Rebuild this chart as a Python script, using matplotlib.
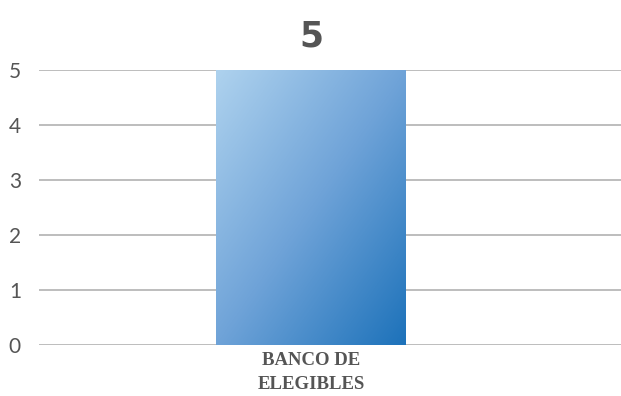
import matplotlib
matplotlib.use("Agg")
import matplotlib.pyplot as plt
import numpy as np
from matplotlib.colors import LinearSegmentedColormap

categories = ["BANCO DE\nELEGIBLES"]
values = [5]
yticks = [0, 1, 2, 3, 4, 5]

fig = plt.figure(figsize=(6.21, 3.96), dpi=100)
ax = fig.add_axes([39 / 621, 1 - 345 / 396, 582 / 621, 275 / 396])

x = np.arange(len(categories))
bars = ax.bar(x, values, width=0.6, color="none", edgecolor="none", zorder=3)

# diagonal gradient fill, light top-left to dark bottom-right
cmap = LinearSegmentedColormap.from_list("blu", ["#aed2ee", "#6fa3d8", "#1d72ba"])
gx, gy = np.meshgrid(np.linspace(0, 1, 200), np.linspace(0, 1, 200))
grad = (gx + gy) / 2
for b in bars:
    x0, y0 = b.get_x(), b.get_y()
    w, h = b.get_width(), b.get_height()
    im = ax.imshow(grad, cmap=cmap, extent=[x0, x0 + w, y0, y0 + h],
                   origin="upper", aspect="auto", zorder=3)
    im.set_clip_path(b)
    ax.text(b.get_x() + w / 2, h + 0.3, f"{values[0]}", ha="center", va="bottom",
            fontsize=25, fontweight="bold", color="#555555", family="DejaVu Sans")

ax.set_xlim(-0.86, 0.98)
ax.set_ylim(0, 5)
ax.set_yticks(yticks)
ax.set_yticklabels([str(t) for t in yticks], fontsize=15, color="#555555", family="Lato")
ax.set_xticks(x)
ax.set_xticklabels(categories, fontsize=13.5, fontweight="bold", color="#555555",
                   family="Liberation Serif", linespacing=1.55)
ax.tick_params(axis="y", length=0, pad=13)
ax.tick_params(axis="x", length=0, pad=5)
ax.grid(axis="y", color="#b8b8b8", linewidth=1.3, zorder=0)
ax.set_axisbelow(True)
for s in ax.spines.values():
    s.set_visible(False)

fig.savefig("out.png", dpi=100)
